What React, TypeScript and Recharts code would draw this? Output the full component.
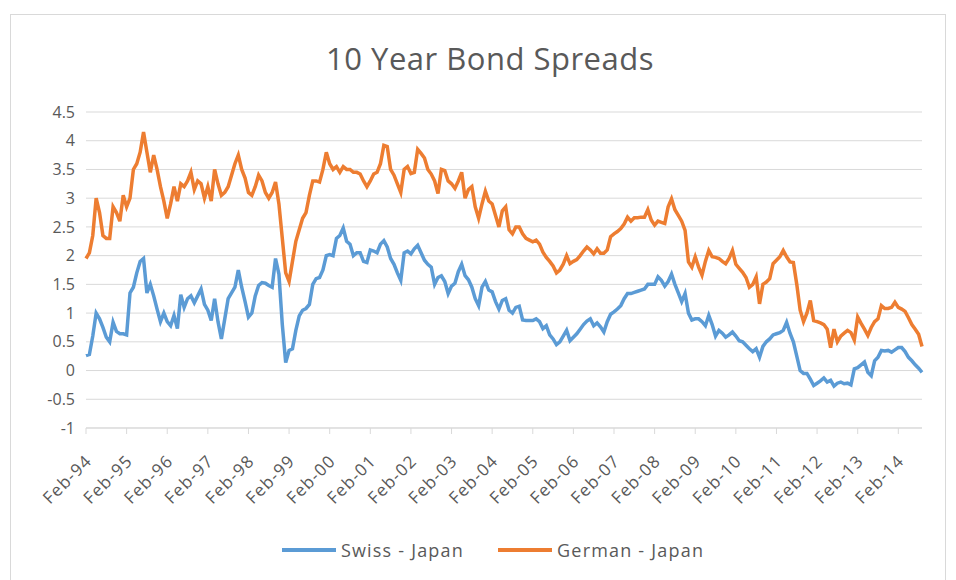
import React from 'react';
import { LineChart, Line, XAxis, YAxis, CartesianGrid, Legend } from 'recharts';

// monthly spreads, Feb-94 .. Sep-14 (12 values per row)
const swissJapan = [
  0.26, 0.28, 0.6, 1.0, 0.9, 0.75, 0.58, 0.5, 0.84, 0.68, 0.64, 0.64,
  0.62, 1.35, 1.45, 1.7, 1.9, 1.95, 1.35, 1.5, 1.3, 1.07, 0.85, 1.0,
  0.85, 0.78, 0.96, 0.73, 1.32, 1.1, 1.25, 1.3, 1.18, 1.3, 1.42, 1.15,
  1.05, 0.87, 1.25, 0.85, 0.55, 0.9, 1.25, 1.35, 1.45, 1.75, 1.45, 1.2,
  0.93, 1.0, 1.3, 1.48, 1.53, 1.52, 1.48, 1.45, 1.95, 1.68, 0.8, 0.14,
  0.35, 0.38, 0.7, 0.95, 1.05, 1.08, 1.15, 1.5, 1.6, 1.62, 1.75, 2.0,
  2.02, 2.0, 2.3, 2.35, 2.48, 2.25, 2.2, 2.0, 2.05, 2.05, 1.9, 1.88,
  2.1, 2.08, 2.05, 2.2, 2.26, 2.15, 1.95, 1.85, 1.7, 1.57, 2.05, 2.08,
  2.03, 2.12, 2.18, 2.05, 1.92, 1.85, 1.8, 1.5, 1.62, 1.65, 1.55, 1.34,
  1.47, 1.52, 1.72, 1.85, 1.65, 1.58, 1.45, 1.25, 1.13, 1.45, 1.55, 1.4,
  1.37, 1.2, 1.07, 1.22, 1.25, 1.05, 1.0, 1.1, 1.12, 0.88, 0.87, 0.87,
  0.87, 0.9, 0.85, 0.73, 0.78, 0.62, 0.55, 0.45, 0.5, 0.6, 0.7, 0.52,
  0.58, 0.64, 0.72, 0.8, 0.86, 0.9, 0.78, 0.83, 0.76, 0.67, 0.85, 0.98,
  1.02, 1.07, 1.13, 1.25, 1.34, 1.34, 1.36, 1.38, 1.4, 1.42, 1.5, 1.5,
  1.5, 1.63, 1.57, 1.47, 1.55, 1.68, 1.5, 1.35, 1.2, 1.34, 1.0, 0.88,
  0.9, 0.9, 0.85, 0.78, 0.96, 0.8, 0.6, 0.7, 0.65, 0.58, 0.62, 0.67,
  0.6, 0.52, 0.5, 0.44, 0.38, 0.33, 0.38, 0.23, 0.42, 0.5, 0.55, 0.62,
  0.64, 0.66, 0.7, 0.84, 0.65, 0.5, 0.25, 0.0, -0.05, -0.05, -0.15, -0.26,
  -0.22, -0.18, -0.13, -0.2, -0.17, -0.27, -0.22, -0.2, -0.23, -0.22, -0.25, 0.03,
  0.05, 0.1, 0.15, -0.03, -0.09, 0.17, 0.23, 0.35, 0.34, 0.35, 0.32, 0.36,
  0.4, 0.4, 0.33, 0.23, 0.17, 0.1, 0.04, -0.03,
];

const germanJapan = [
  1.95, 2.05, 2.35, 3.0, 2.75, 2.35, 2.3, 2.3, 2.85, 2.75, 2.6, 3.05,
  2.85, 3.0, 3.5, 3.6, 3.8, 4.15, 3.8, 3.45, 3.75, 3.5, 3.2, 2.95,
  2.65, 2.9, 3.2, 2.95, 3.25, 3.2, 3.3, 3.45, 3.15, 3.3, 3.25, 3.0,
  3.2, 2.95, 3.5, 3.25, 3.05, 3.1, 3.2, 3.4, 3.6, 3.75, 3.5, 3.35,
  3.1, 3.05, 3.2, 3.4, 3.3, 3.1, 3.0, 3.1, 3.28, 2.9, 2.3, 1.7,
  1.55, 1.9, 2.25, 2.45, 2.65, 2.75, 3.05, 3.3, 3.3, 3.28, 3.5, 3.8,
  3.6, 3.5, 3.55, 3.45, 3.55, 3.5, 3.5, 3.45, 3.45, 3.42, 3.3, 3.2,
  3.3, 3.42, 3.45, 3.6, 3.92, 3.9, 3.5, 3.4, 3.25, 3.1, 3.5, 3.55,
  3.43, 3.45, 3.85, 3.78, 3.7, 3.5, 3.42, 3.3, 3.08, 3.5, 3.48, 3.3,
  3.25, 3.17, 3.3, 3.45, 3.0, 3.15, 3.2, 2.85, 2.65, 2.9, 3.12, 2.95,
  2.9, 2.7, 2.5, 2.78, 2.85, 2.45, 2.38, 2.5, 2.5, 2.38, 2.3, 2.27,
  2.24, 2.27, 2.2, 2.06, 1.97, 1.9, 1.82, 1.7, 1.75, 1.85, 2.0, 1.86,
  1.9, 1.93, 2.0, 2.08, 2.15, 2.1, 2.03, 2.12, 2.04, 2.04, 2.1, 2.33,
  2.38, 2.42, 2.47, 2.55, 2.67, 2.6, 2.66, 2.66, 2.67, 2.67, 2.8, 2.62,
  2.53, 2.6, 2.58, 2.56, 2.85, 2.99, 2.8, 2.7, 2.6, 2.44, 1.89, 1.8,
  1.98, 1.8, 1.66, 1.9, 2.09, 1.98, 1.97, 1.95, 1.9, 1.86, 1.95, 2.09,
  1.85, 1.78, 1.71, 1.62, 1.45, 1.5, 1.63, 1.16, 1.5, 1.54, 1.6, 1.86,
  1.92, 1.98, 2.09, 1.98, 1.89, 1.88, 1.5, 1.05, 0.85, 1.0, 1.22, 0.87,
  0.85, 0.83, 0.8, 0.72, 0.4, 0.72, 0.5, 0.6, 0.65, 0.7, 0.66, 0.53,
  0.93, 0.82, 0.72, 0.61, 0.75, 0.85, 0.9, 1.13, 1.08, 1.08, 1.1, 1.19,
  1.1, 1.07, 1.03, 0.92, 0.8, 0.72, 0.63, 0.42,
];

const monthNames = ['Jan', 'Feb', 'Mar', 'Apr', 'May', 'Jun', 'Jul', 'Aug', 'Sep', 'Oct', 'Nov', 'Dec'];
const yTicks = [-1, -0.5, 0, 0.5, 1, 1.5, 2, 2.5, 3, 3.5, 4, 4.5];

// first point is Feb-94
const months = swissJapan.map((_, i) => {
  const m = (1 + i) % 12;
  const yr = (94 + Math.floor((1 + i) / 12)) % 100;
  return `${monthNames[m]}-${String(yr).padStart(2, '0')}`;
});

const data = months.map((month, i) => ({
  month,
  swiss: swissJapan[i],
  german: germanJapan[i],
}));

const FONT = '"Open Sans", sans-serif';
const TEXT = '#595959';
const GRID = '#d9d9d9';
const BLUE = '#5B9BD5';
const ORANGE = '#ED7D31';

const XTick = (props: any) => {
  const { x, y, payload } = props;
  const ax = x + 7;
  const ay = y + 28;
  return (
    <text
      x={ax}
      y={ay}
      transform={`rotate(-45, ${ax}, ${ay})`}
      textAnchor="end"
      fill={TEXT}
      fontSize={17}
      letterSpacing={1.2}
      fontFamily={FONT}
    >
      {payload.value}
    </text>
  );
};

const LegendContent = () => (
  <div
    style={{
      height: 40,
      paddingLeft: 64,
      display: 'flex',
      alignItems: 'center',
      justifyContent: 'center',
      fontFamily: FONT,
      fontSize: 18,
      letterSpacing: 1.2,
      color: TEXT,
    }}
  >
    {[
      { label: 'Swiss - Japan', color: BLUE },
      { label: 'German - Japan', color: ORANGE },
    ].map((it, i) => (
      <div key={it.label} style={{ display: 'flex', alignItems: 'center', marginLeft: i ? 34 : 0 }}>
        <span style={{ width: 54, height: 4, background: it.color, marginRight: 5, display: 'inline-block' }} />
        <span>{it.label}</span>
      </div>
    ))}
  </div>
);

export default function App() {
  return (
    <div style={{ position: 'absolute', left: 0, top: 0, width: 956, height: 580, background: '#fff', overflow: 'hidden' }}>
      <div
        style={{
          position: 'absolute',
          left: 10,
          top: 14,
          width: 936,
          height: 600,
          border: `1px solid ${GRID}`,
          boxSizing: 'border-box',
        }}
      />
      <div
        style={{
          position: 'absolute',
          left: 0,
          top: 37,
          width: 980,
          textAlign: 'center',
          fontFamily: FONT,
          fontSize: 31,
          color: TEXT,
          letterSpacing: 0.5,
        }}
      >
        10 Year Bond Spreads
      </div>
      <div style={{ position: 'absolute', left: 0, top: 0 }}>
        <LineChart width={956} height={580} data={data} margin={{ top: 112, right: 34, bottom: 10, left: 0 }}>
          <CartesianGrid horizontal vertical={false} stroke={GRID} />
          <XAxis
            dataKey="month"
            interval={11}
            height={102}
            tick={<XTick />}
            tickSize={6}
            tickMargin={0}
            axisLine={{ stroke: GRID }}
            tickLine={{ stroke: GRID }}
          />
          <YAxis
            domain={[-1, 4.5]}
            ticks={yTicks}
            width={86}
            axisLine={false}
            tickLine={false}
            tickSize={0}
            tickMargin={11}
            tick={{ fill: TEXT, fontSize: 16, fontFamily: FONT }}
          />
          <Legend verticalAlign="bottom" content={<LegendContent />} />
          <Line
            type="linear"
            dataKey="swiss"
            name="Swiss - Japan"
            stroke={BLUE}
            strokeWidth={3.5}
            dot={false}
            isAnimationActive={false}
          />
          <Line
            type="linear"
            dataKey="german"
            name="German - Japan"
            stroke={ORANGE}
            strokeWidth={3.5}
            dot={false}
            isAnimationActive={false}
          />
        </LineChart>
      </div>
    </div>
  );
}
